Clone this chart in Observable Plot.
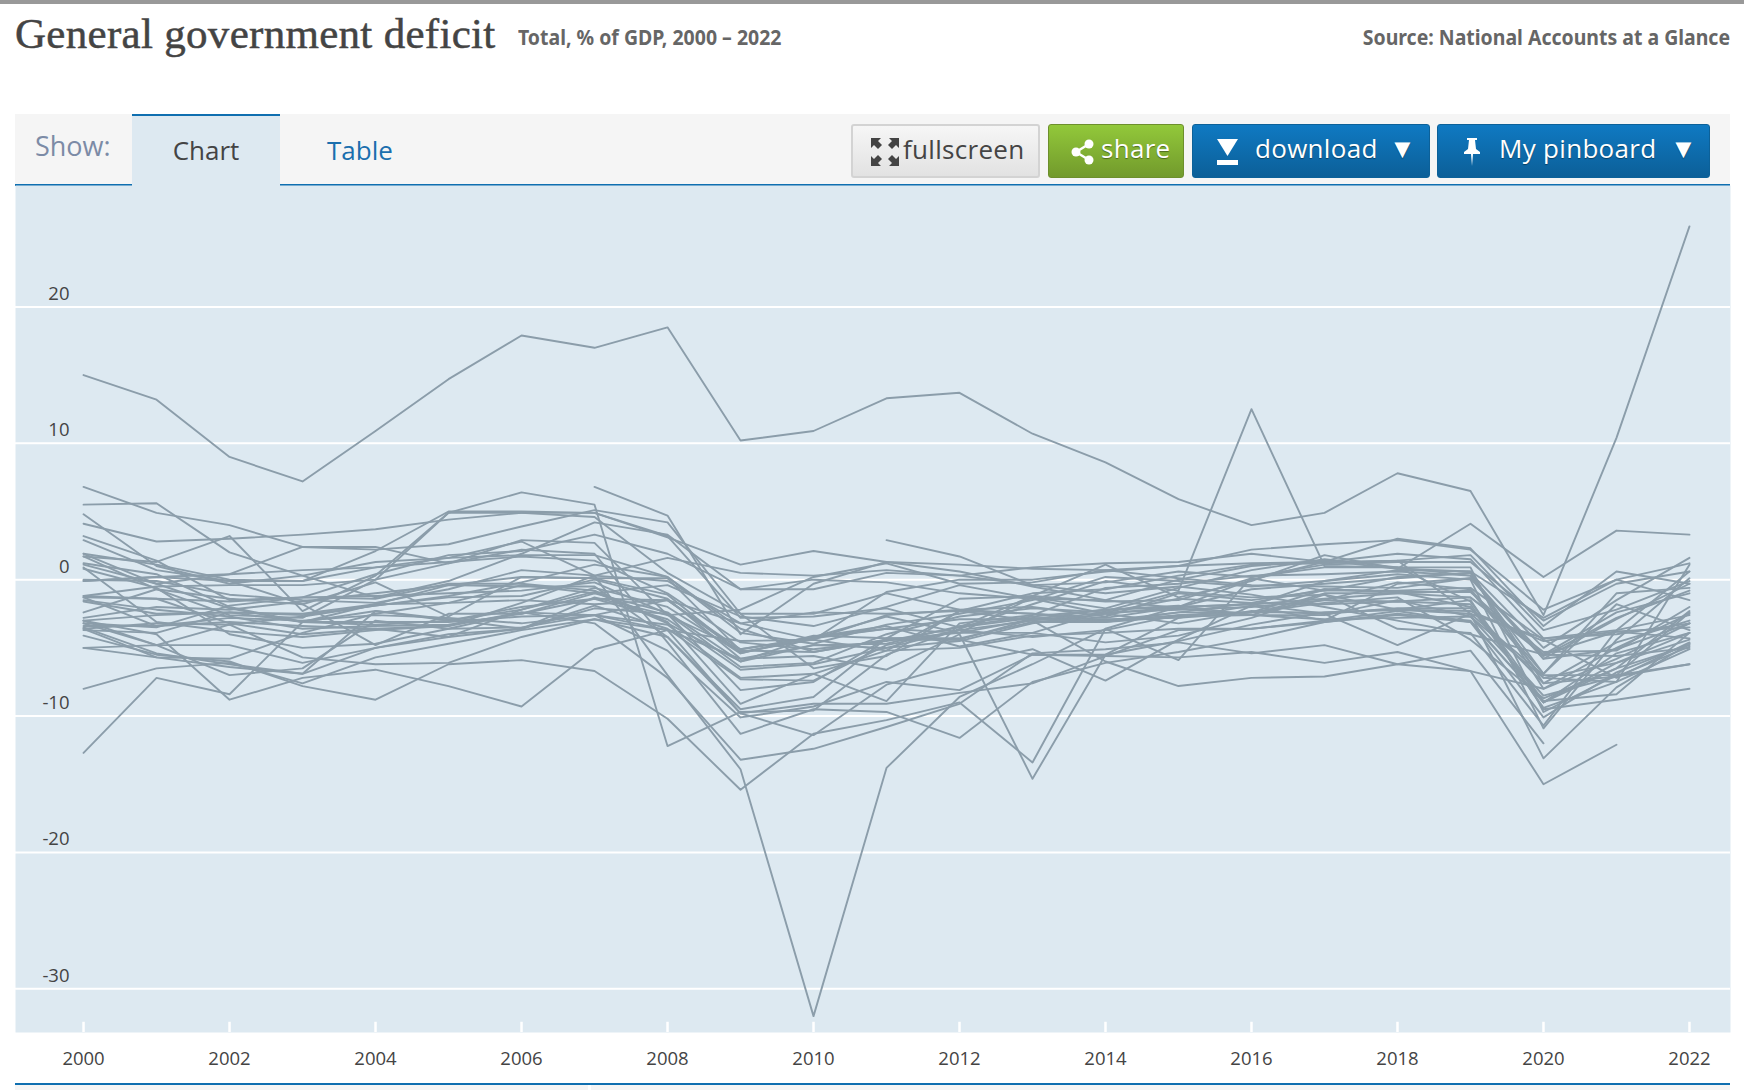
<!DOCTYPE html>
<html><head><meta charset="utf-8">
<script src="https://cdn.jsdelivr.net/npm/d3@7"></script>
<script src="https://cdn.jsdelivr.net/npm/@observablehq/plot@0.6"></script>
<style>
html,body{margin:0;padding:0;background:#fff;width:1744px;height:1090px;overflow:hidden;font-family:"Open Sans","Noto Sans",sans-serif}
#topbar{position:absolute;left:0;top:0;width:1744px;height:4px;background:#999}
.abs{position:absolute;white-space:nowrap}
#title{left:15px;top:9px;font:400 43px "Liberation Serif",serif;color:#444;letter-spacing:.3px;-webkit-text-stroke:.5px #444}
#sub{left:518px;top:21px;font:700 22px "Noto Sans",sans-serif;color:#666;transform:scaleX(.885);transform-origin:left}
#src{right:14px;top:21px;font:700 22px "Noto Sans",sans-serif;color:#666;transform:scaleX(.885);transform-origin:right}
#bar{position:absolute;left:15px;top:114px;width:1715px;height:70px;background:#f5f5f5}
#line{position:absolute;left:15px;top:184px;width:1715px;height:2px;background:#0f6fb0}
#show{left:35px;top:127px;font-size:27px;color:#7c8ba6}
#tab{position:absolute;left:132px;top:114px;width:148px;height:72px;background:#dde9f1;border-top:2px solid #0f6fb0;box-sizing:border-box;text-align:center;font-size:26px;line-height:68px;color:#444}
#tbl{left:327px;top:132px;font-size:26px;color:#1a6fae}
.btn{position:absolute;top:124px;height:54px;box-sizing:border-box;border-radius:3px;font-size:26px;line-height:47px;color:#fff;text-shadow:0 1px 1px #0006}
#b1{left:851px;width:189px;background:linear-gradient(#f6f6f6,#e2e2e2);border:2px solid #d3d3d3;color:#444;text-shadow:none}
#b2{left:1048px;width:136px;background:linear-gradient(#92c83a,#729a2c);border:1px solid #6d8f2c}
#b3{left:1192px;width:238px;background:linear-gradient(#0f79c2,#0c5f98);border:1px solid #0c6199}
#b4{left:1437px;width:273px;background:linear-gradient(#0f79c2,#0c5f98);border:1px solid #0c6199}
.btn span{position:absolute;top:0;letter-spacing:.3px}
.btn svg{position:absolute}
.btn .arr{font-size:27px;line-height:46px;letter-spacing:0}
#foot{position:absolute;left:15px;top:1083px;width:1715px;height:2px;background:#0f6fb0}
#foot2{position:absolute;left:15px;top:1085px;width:1715px;height:5px;background:linear-gradient(90deg,#f5f5f5 0,#f5f5f5 573px,#fff 573px,#fff 576px,#f5f5f5 576px)}
#plot{position:absolute;left:15px;top:185px}
</style></head><body>
<div id="topbar"></div>
<div class="abs" id="title">General government deficit</div>
<div class="abs" id="sub">Total, % of GDP, 2000 – 2022</div>
<div class="abs" id="src">Source: National Accounts at a Glance</div>
<div id="bar"></div><div id="line"></div>
<div class="abs" id="show">Show:</div>
<div id="tab">Chart</div>
<div class="abs" id="tbl">Table</div>
<div class="btn" id="b1"><svg style="left:18px;top:12px" width="28" height="28" viewBox="0 0 28 28" fill="#444"><path d="M0 0h10L7 3l4 4-4 4-4-4-3 3zM28 0v10l-3-3-4 4-4-4 4-4-3-3zM0 28V18l3 3 4-4 4 4-4 4 3 3zM28 28H18l3-3-4-4 4-4 4 4 3-3z"/></svg><span style="left:50px">fullscreen</span></div>
<div class="btn" id="b2"><svg style="left:22px;top:14px" width="24" height="26" viewBox="0 0 24 26" fill="#fff"><circle cx="18" cy="5" r="4.500"/><circle cx="5" cy="13" r="4.500"/><circle cx="18" cy="21" r="4.500"/><path d="M5 13L18 5M5 13l13 8" stroke="#fff" stroke-width="2.500"/></svg><span style="left:52px">share</span></div>
<div class="btn" id="b3"><svg style="left:23px;top:13px" width="24" height="28" viewBox="0 0 24 28" fill="#fff"><path d="M1 1h21L11.500 18z"/><rect x="1" y="22" width="21" height="5"/></svg><span style="left:62px">download</span><span class="arr" style="left:196px">▼</span></div>
<div class="btn" id="b4"><svg style="left:23px;top:12px" width="22" height="30" viewBox="0 0 22 30" fill="#fff"><path d="M6 1h10v2h-2l1 9 4 3v2H3v-2l4-3 1-9H6zM10 17h2l-1 12z"/></svg><span style="left:61px">My pinboard</span><span class="arr" style="left:232px">▼</span></div>
<div id="plot"></div>
<div id="foot"></div><div id="foot2"></div>
<script>
const years = d3.range(2000, 2023);
const yTicks = [20, 10, 0, -10, -20, -30];
const xTicks = [2000,2002,2004,2006,2008,2010,2012,2014,2016,2018,2020,2022];
const _ = null;
const Australia=[1.1,-0.3,0.4,0.7,0.9,1.3,1.7,1.4,-1.0,-4.6,-5.1,-4.5,-3.5,-2.8,-2.9,-2.8,-2.4,-1.7,-1.3,-4.4,-8.7,-6.5,-2.3];
const Austria=[-2.4,-0.7,-1.4,-1.8,-4.8,-2.5,-2.5,-1.4,-1.5,-5.3,-4.4,-2.6,-2.2,-2.0,-2.7,-1.0,-1.5,-0.8,0.2,0.5,-8.0,-5.8,-3.2];
const Belgium=[-0.1,0.2,-0.1,-1.8,-0.2,-2.7,0.2,0.1,-1.1,-5.4,-4.1,-4.3,-4.3,-3.1,-3.1,-2.4,-2.4,-0.7,-0.9,-2.0,-9.0,-5.4,-3.9];
const Bulgaria=[-1.2,-1.4,-1.6,-1.3,-1.2,-1.0,-0.8,-0.2,-2.5,-6.4,-6.1,-4.0,-2.7,-2.1,-2.4,-2.2,-2.0,-1.5,-1.6,-1.3,-5.5,-5.6,-5.0];
const Canada=[2.9,0.7,-0.1,-0.1,0.9,1.6,1.8,1.8,0.2,-3.9,-4.7,-3.3,-2.5,-1.5,0.2,-0.1,-0.5,-0.1,0.4,0,-10.9,-4.4,0.1];
const Chile=[_,_,_,_,_,_,_,6.8,4.7,-4.0,-0.3,1.3,0.6,-0.5,-1.5,-2.1,-2.6,-2.6,-1.5,-2.7,-7.2,-7.5,1.1];
const Colombia=[-5.0,-5.7,-5.8,-3.9,-2.5,-1.7,-0.4,-1.0,-0.4,-2.7,-3.4,-2.0,-0.4,-1.4,-2.5,-3.2,-2.3,-2.5,-4.8,-2.5,-7.0,-7.0,-6.2];
const CostaRica=[-3.6,-3.2,-3.3,-2.7,-1.9,-1.2,-0.2,1.1,0.2,-3.6,-5.3,-4.4,-4.4,-5.5,-5.6,-5.7,-5.3,-6.1,-5.3,-6.7,-8.0,-5.0,-2.5];
const Cyprus=[-1.5,-2.2,-2.7,-3.6,-3.4,-3.3,-2.5,-1.0,-2.4,-6.0,-4.8,-5.0,-4.5,-3.2,-2.5,-2.0,-1.8,-1.4,-1.0,-0.8,-7.2,-6.1,-3.9];
const Czechia=[-3.5,-5.4,-6.2,-6.9,-2.3,-3.0,-2.2,-0.6,-2.0,-5.4,-4.2,-2.7,-3.9,-1.3,-2.1,-0.6,0.7,1.5,0.9,0.3,-5.8,-5.1,-3.2];
const Denmark=[1.9,1.1,0,-0.1,2.1,5.0,5.0,4.9,3.2,-2.8,-2.7,-2.1,-3.5,-1.2,1.1,-1.3,-0.1,1.8,0.8,4.1,0.2,3.6,3.3];
const Estonia=[-0.1,0.2,0.4,2.4,2.4,1.2,2.9,2.7,-2.6,-2.2,0.2,1.2,-0.3,-0.2,0.7,0.1,-0.4,-0.5,-0.6,0.1,-5.5,-2.4,-1.0];
const Finland=[6.8,4.9,4.0,2.4,2.2,2.6,3.9,5.1,4.2,-2.5,-2.5,-1.0,-2.2,-2.5,-3.0,-2.4,-1.7,-0.7,-0.9,-0.9,-5.6,-2.8,-0.8];
const France=[-1.3,-1.4,-3.2,-4.0,-3.6,-3.4,-2.4,-2.6,-3.3,-7.2,-6.9,-5.2,-5.0,-4.1,-3.9,-3.6,-3.6,-3.0,-2.3,-3.1,-9.0,-6.5,-4.8];
const Germany=[0.9,-3.1,-3.8,-4.2,-3.7,-3.4,-1.7,0.3,-0.1,-3.2,-4.4,-0.9,0,0,0.6,1.0,1.2,1.3,1.9,1.5,-4.3,-3.7,-2.6];
const Greece=[-4.1,-5.5,-6.0,-7.8,-8.8,-6.2,-5.9,-6.7,-10.2,-15.4,-11.3,-10.3,-9.0,-13.4,-3.6,-5.9,0.2,0.9,0.9,0.9,-9.7,-7.0,-2.4];
const Hungary=[-3.0,-4.0,-8.8,-7.2,-6.6,-7.8,-9.3,-5.1,-3.7,-4.5,-4.4,-5.2,-2.3,-2.5,-2.8,-2.0,-1.8,-2.5,-2.1,-2.1,-7.6,-7.1,-6.2];
const Iceland=[1.7,-0.7,-2.6,-2.8,0,4.9,6.4,5.5,-12.2,-9.7,-9.6,-5.5,-3.6,-1.8,-0.1,-0.8,12.5,1.0,0.9,-1.6,-8.9,-8.4,-3.9];
const Ireland=[4.8,1.0,-0.3,0.3,1.3,1.6,2.8,0.3,-7.0,-13.9,-32.0,-13.8,-8.6,-6.2,-3.6,-2.0,-0.7,-0.3,0.1,0.5,-5.0,-1.5,1.6];
const Israel=[-3.6,-5.7,-6.4,-6.9,-5.0,-4.2,-2.2,-0.9,-3.2,-6.0,-4.2,-3.4,-4.9,-3.9,-2.3,-0.9,-1.3,-1.1,-3.6,-3.9,-10.7,-3.7,0.6];
const Italy=[-1.3,-3.4,-3.1,-3.4,-3.6,-4.2,-3.6,-1.3,-2.6,-5.1,-4.2,-3.6,-2.9,-2.9,-3.0,-2.6,-2.4,-2.4,-2.2,-1.5,-9.5,-8.8,-8.0];
const Japan=[-8.0,-6.5,-6.1,-7.6,-5.7,-4.7,-3.7,-2.9,-4.2,-9.8,-9.1,-9.1,-8.3,-7.6,-5.6,-3.7,-3.6,-3.1,-2.5,-3.0,-9.0,-6.1,-4.4];
const Korea=[4.1,2.8,3.0,3.3,3.7,4.4,4.9,4.9,3.1,1.1,2.1,1.3,1.1,0.8,0.7,1.0,2.2,2.6,2.9,2.2,-2.2,0,-1.5];
const Latvia=[-2.8,-2.0,-2.2,-1.6,-1.0,-0.4,-0.5,-0.5,-4.2,-9.5,-8.6,-4.3,-1.4,-1.2,-1.6,-1.5,0.1,-0.8,-0.8,-0.6,-4.4,-7.2,-4.6];
const Lithuania=[-3.2,-3.5,-1.9,-1.3,-1.4,-0.3,-0.3,-0.8,-3.1,-9.1,-6.9,-8.9,-3.2,-2.6,-0.6,-0.3,0.3,0.4,0.6,0.3,-6.9,-1.0,-0.6];
const Luxembourg=[5.5,5.6,2.0,0.3,-1.3,-0.1,1.9,4.2,3.3,-0.7,-0.7,0.5,0.3,0.9,1.2,1.3,1.9,1.3,3.0,2.3,-3.4,0.6,-0.3];
const Malta=[-1.6,-2.5,-2.4,-3.1,-3.3,-3.0,-2.0,-1.4,-2.9,-6.6,-6.2,-5.0,-3.7,-3.0,-2.4,-1.4,-1.7,-1.8,-1.6,-1.8,-9.4,-7.5,-5.1];
const Mexico=[-3.0,-2.6,-2.4,-2.5,-1.8,-1.7,-1.5,-1.8,-1.5,-5.1,-4.3,-3.6,-3.9,-3.9,-4.6,-4.1,-2.8,-1.1,-2.2,-2.3,-4.5,-3.8,-4.3];
const Netherlands=[1.9,-0.3,-2.1,-3.1,-1.8,-0.4,0.2,0.1,0.1,-5.2,-5.3,-4.4,-3.9,-2.9,-2.2,-2.0,0,1.3,1.4,1.8,-3.7,-2.2,-0.1];
const NewZealand=[1.7,1.3,3.2,-2.3,0.3,4.9,4.9,4.6,0.5,-2.5,-6.5,-5.6,-2.3,-1.0,-0.7,0.3,1.1,1.2,1.4,-2.5,-4.3,-4.0,-3.2];
const Norway=[15.0,13.2,9.0,7.2,10.9,14.7,17.9,17.0,18.5,10.2,10.9,13.3,13.7,10.7,8.6,5.9,4.0,4.9,7.8,6.5,-2.6,10.4,25.9];
const Poland=[-3.0,-4.8,-4.8,-6.1,-5.0,-4.0,-3.6,-1.9,-3.6,-7.3,-7.4,-4.8,-3.7,-4.2,-3.7,-2.6,-2.4,-1.5,-0.2,-0.7,-6.9,-1.8,-3.7];
const Portugal=[-3.2,-4.8,-3.3,-5.7,-6.2,-6.1,-4.2,-2.9,-3.7,-9.8,-11.4,-7.7,-6.2,-5.1,-7.4,-4.4,-1.9,-3.0,-0.3,0.1,-5.8,-2.9,-0.3];
const Romania=[-3.4,-3.4,-2.8,-3.0,-2.6,-2.8,-3.2,-2.6,-3.7,-5.8,-4.8,-4.7,-3.4,-2.7,-2.2,-1.9,-2.6,-2.9,-2.8,-2.7,-8.5,-7.1,-4.9];
const SlovakRepublic=[-12.7,-7.2,-8.4,-3.1,-2.3,-2.9,-3.6,-2.1,-2.5,-8.1,-7.5,-4.3,-4.4,-2.9,-3.1,-2.7,-2.6,-1.0,-1.0,-1.3,-5.3,-5.2,-2.0];
const Slovenia=[-3.7,-3.9,-2.4,-2.6,-1.9,-1.3,-1.2,0,-1.4,-5.8,-5.6,-6.6,-4.0,-14.6,-5.5,-2.8,-1.9,-0.1,0.7,0.6,-7.6,-4.6,-3.0];
const Spain=[-1.2,-0.5,-0.4,-0.4,0,1.2,2.2,1.9,-4.6,-11.3,-9.5,-9.7,-11.6,-7.5,-6.1,-5.3,-4.3,-3.1,-2.6,-3.1,-10.1,-6.8,-4.7];
const Sweden=[3.2,1.4,-1.5,-1.3,0.4,1.8,2.1,3.3,1.9,-0.7,0,-0.2,-1.0,-1.4,-1.5,0,1.0,1.4,0.8,0.6,-2.8,0,1.2];
const Switzerland=[0,-0.1,-1.1,-1.5,-1.7,-0.7,0.7,0.3,1.6,0.5,0.3,0.7,0.3,-0.4,-0.2,0.6,0.2,1.1,1.3,1.3,-3.0,-0.3,0.6];
const Turkey=[_,_,_,_,_,_,_,_,_,_,_,2.9,1.7,-0.4,-1.0,-0.5,-1.1,-2.0,-3.0,-4.0,-5.5,-3.8,-3.5];
const UnitedKingdom=[1.2,0.4,-2.0,-3.1,-3.1,-3.1,-2.7,-2.6,-5.2,-10.1,-9.3,-7.5,-8.1,-5.5,-5.5,-4.5,-3.3,-2.4,-2.2,-2.5,-13.1,-7.9,-4.7];
const UnitedStates=[0.8,-0.6,-4.0,-5.0,-4.7,-3.6,-2.4,-3.2,-7.2,-13.2,-12.4,-10.8,-9.1,-5.4,-5.1,-4.6,-5.4,-4.8,-6.2,-6.7,-15.0,-12.1,_];
const Brazil=[-5.0,-4.8,-7.0,-6.5,-3.0,-3.6,-3.5,-2.6,-1.5,-3.2,-2.4,-2.5,-2.3,-3.0,-6.0,-7.8,-7.2,-7.1,-6.2,-5.2,-12.0,_,_];

const seriesByName = {Australia,Austria,Belgium,Bulgaria,Canada,Chile,Colombia,CostaRica,Cyprus,Czechia,Denmark,Estonia,Finland,France,Germany,Greece,Hungary,Iceland,Ireland,Israel,Italy,Japan,Korea,Latvia,Lithuania,Luxembourg,Malta,Mexico,Netherlands,NewZealand,Norway,Poland,Portugal,Romania,SlovakRepublic,Slovenia,Spain,Sweden,Switzerland,Turkey,UnitedKingdom,UnitedStates,Brazil};
const rows = Object.entries(seriesByName).flatMap(([name, vals]) => vals.map((v, i) => ({name, year: years[i], value: v})));

const yMin = -33.2, yMax = 28.9;
const chart = Plot.plot({
  width: 1715, height: 898,
  marginLeft: 0, marginRight: 0, marginTop: 0, marginBottom: 51,
  style: {fontFamily: '"Open Sans","Noto Sans",sans-serif', fontSize: "18px", color: "#444", background: "transparent", overflow: "visible"},
  x: {domain: [1999.068, 2022.562], label: null},
  y: {domain: [yMin, yMax], label: null},
  marks: [
    Plot.frame({fill: "#dde9f1", stroke: "none"}),
    Plot.ruleY(yTicks, {stroke: "#fff", strokeWidth: 2}),
    Plot.ruleX(xTicks, {y1: yMin, y2: yMin + 0.75, stroke: "#fff", strokeWidth: 2.5}),
    Plot.line(rows, {x: "year", y: "value", z: "name", stroke: "#8b9daa", strokeWidth: 1.9, curve: "linear"}),
    Plot.axisX({ticks: xTicks, tickFormat: "d", tickSize: 0, tickPadding: 19, label: null, fontSize: 18.5}),
    Plot.axisY({ticks: yTicks, anchor: "left", tickSize: 0, tickPadding: -54, dy: -13, label: null, tickFormat: d => String(d), fontSize: 18.5})
  ]
});
document.getElementById("plot").appendChild(chart);
</script>
</body></html>
